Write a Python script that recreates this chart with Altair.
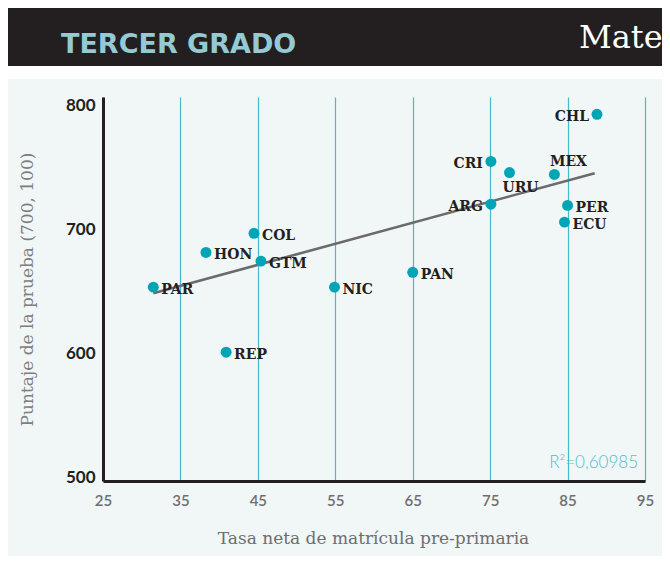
import altair as alt
import pandas as pd

# ---- data ----
countries = ["CHL", "CRI", "URU", "MEX", "ARG", "PER", "ECU",
             "COL", "HON", "GTM", "PAR", "NIC", "PAN", "REP"]
enrolment = [88.8, 75.1, 77.5, 83.3, 75.1, 85.0, 84.6,
             44.5, 38.3, 45.4, 31.5, 54.9, 65.0, 40.9]
score = [796, 758, 749, 747.5, 723.5, 722.5, 709,
         700, 684.5, 677.5, 656.5, 656.5, 668.5, 604]

trend_x = [31.5, 88.5]
trend_y = [651.5, 748.5]

x_ticks = [25, 35, 45, 55, 65, 75, 85, 95]
y_ticks = [500, 600, 700, 800]

header_left = "TERCER GRADO"
header_right = "Matemática"
r2_text = "R²=0,60985"
x_title = "Tasa neta de matrícula pre-primaria"
y_title = "Puntaje de la prueba (700, 100)"

# label placement groups
LEFT = ["CHL", "CRI", "ARG"]
ABOVE = ["MEX"]
BELOW = ["URU"]

df = pd.DataFrame({"pais": countries, "tasa": enrolment, "puntaje": score})
trend = pd.DataFrame({"tasa": trend_x, "puntaje": trend_y})
one = pd.DataFrame({"k": [0]})

DARK = "#231f20"
GRAY = "#6d6e70"
TEAL = "#00a5b5"
GRID = "#45bcc8"

xs = alt.Scale(domain=[25, 95], nice=False, zero=False)
ys = alt.Scale(domain=[500, 810], nice=False, zero=False)

x_enc = alt.X("tasa:Q", scale=xs, axis=alt.Axis(
    values=x_ticks, grid=True, gridColor=GRID, gridWidth=1.2, gridOpacity=1,
    ticks=False, domainColor=DARK, domainWidth=3,
    labelFont="Lato", labelFontSize=15, labelFontWeight=600, labelColor=GRAY,
    labelPadding=12, labelFlush=False,
    title=x_title, titleFont="DejaVu Serif", titleFontSize=17, titleFontWeight="normal",
    titleColor=GRAY, titleX=270, titleY=57, titleBaseline="middle", titleAlign="center"))
y_enc = alt.Y("puntaje:Q", scale=ys, axis=alt.Axis(
    values=y_ticks, grid=False, ticks=False, domainColor=DARK, domainWidth=3,
    labelFont="Lato", labelFontSize=17, labelFontWeight="bold", labelColor=DARK,
    labelPadding=8, labelOffset=-4,
    title=y_title, titleFont="DejaVu Serif", titleFontSize=17, titleFontWeight="normal",
    titleColor="#7d7e80", titleX=-76, titleY=192, titleAngle=-90, titleBaseline="middle",
    titleAlign="center"))

# header decorations
white_band = alt.Chart(one).mark_rect(color="white").encode(
    x=alt.value(-95), x2=alt.value(570), y=alt.value(-89), y2=alt.value(-18))
black_bar = alt.Chart(one).mark_rect(color=DARK).encode(
    x=alt.value(-95), x2=alt.value(570), y=alt.value(-89), y2=alt.value(-31))
head_l = alt.Chart(one).mark_text(
    text=header_left, font="DejaVu Sans", fontSize=27, fontWeight="bold", color="#93cad4",
    align="left", baseline="alphabetic").encode(x=alt.value(-42), y=alt.value(-44))
head_r = alt.Chart(one).mark_text(
    text=header_right, font="DejaVu Serif", fontSize=32, color="white",
    align="left", baseline="alphabetic").encode(x=alt.value(476), y=alt.value(-49))

base = alt.Chart(df)

trend_line = alt.Chart(trend).mark_line(color="#6b6b6b", strokeWidth=2.6).encode(
    x=x_enc, y=y_enc)

points = base.mark_circle(size=120, color=TEAL, opacity=1).encode(x=x_enc, y=y_enc)

lbl = dict(font="DejaVu Serif", fontSize=14, fontWeight="bold", color=DARK)
others = LEFT + ABOVE + BELOW
t_right = base.transform_filter(
    ~alt.FieldOneOfPredicate(field="pais", oneOf=others)
).mark_text(align="left", baseline="middle", dx=8, dy=3, **lbl).encode(
    x="tasa:Q", y="puntaje:Q", text="pais:N")
t_left = base.transform_filter(
    alt.FieldOneOfPredicate(field="pais", oneOf=LEFT)
).mark_text(align="right", baseline="middle", dx=-8, dy=3, **lbl).encode(
    x="tasa:Q", y="puntaje:Q", text="pais:N")
t_above = base.transform_filter(
    alt.FieldOneOfPredicate(field="pais", oneOf=ABOVE)
).mark_text(align="center", baseline="middle", dx=14, dy=-12, **lbl).encode(
    x="tasa:Q", y="puntaje:Q", text="pais:N")
t_below = base.transform_filter(
    alt.FieldOneOfPredicate(field="pais", oneOf=BELOW)
).mark_text(align="center", baseline="middle", dx=11, dy=15, **lbl).encode(
    x="tasa:Q", y="puntaje:Q", text="pais:N")

r2 = alt.Chart(one).mark_text(
    text=r2_text, font="Lato", fontSize=17, fontWeight=300, color="#4cc1cd",
    align="right", baseline="middle").encode(x=alt.value(535), y=alt.value(366))

chart = alt.layer(
    white_band, black_bar, head_l, head_r,
    trend_line, points, t_right, t_left, t_above, t_below, r2
).properties(
    width=542, height=384,
    autosize=alt.AutoSizeParams(type="none"),
    padding={"left": 95, "top": 89, "right": 17, "bottom": 75},
    background="#f1f6f6",
).configure_view(stroke=None)

chart.save("out.html", embed_options={"renderer": "svg", "actions": False})
